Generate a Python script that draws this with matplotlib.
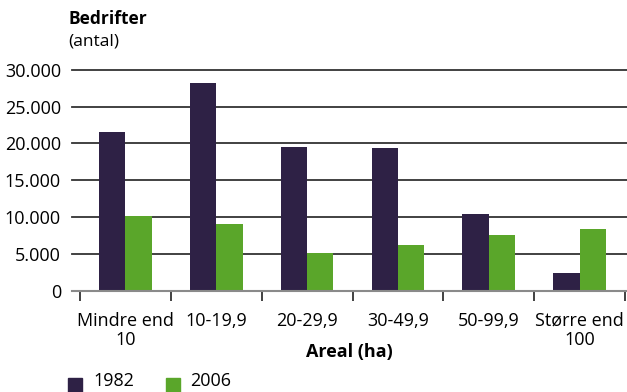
import matplotlib
matplotlib.use("Agg")
import matplotlib.pyplot as plt
import numpy as np

# Antal bedrifter fordelt på areal
categories = ["Mindre end\n10", "10-19,9", "20-29,9", "30-49,9", "50-99,9", "Større end\n100"]
series_names = ["1982", "2006"]
values_1982 = [21550, 28150, 19550, 19400, 10400, 2400]
values_2006 = [10100, 9150, 5200, 6250, 7650, 8350]
y_ticks = [0, 5000, 10000, 15000, 20000, 25000, 30000]
y_tick_labels = ["0", "5.000", "10.000", "15.000", "20.000", "25.000", "30.000"]

plt.rcParams["font.family"] = ["Open Sans", "DejaVu Sans"]
FS = 13
C1982 = "#2e2145"
C2006 = "#5aa62a"

W, H = 627, 392
fig = plt.figure(figsize=(W / 100, H / 100), dpi=100)
ax = fig.add_axes([72 / W, 1 - 291 / H, (627 - 72) / W, (291 - 69.7) / H])

x = np.arange(len(categories))
bw = 0.29
ax.bar(x - bw / 2, values_1982, bw, color=C1982, zorder=3, label=series_names[0])
ax.bar(x + bw / 2, values_2006, bw, color=C2006, zorder=3, label=series_names[1])

ax.set_ylim(0, 30000)
ax.set_xlim(-0.5 - 8 / 90.8, len(categories) - 0.5 + 2 / 90.8)

# horizontal gridlines
for t in y_ticks[1:]:
    ax.axhline(t, color="#333333", lw=1.3, zorder=1, clip_on=False)
ax.axhline(0, color="#8a8a8a", lw=1.5, zorder=4, clip_on=False)

for s in ax.spines.values():
    s.set_visible(False)

ax.set_yticks(y_ticks)
ax.set_yticklabels(y_tick_labels, fontsize=FS)
ax.tick_params(axis="y", length=0, pad=8)

ax.set_xticks(x)
ax.set_xticklabels(categories, fontsize=FS, linespacing=1.1)
ax.tick_params(axis="x", which="major", length=0, pad=15)
ax.set_xticks(np.arange(len(categories) + 1) - 0.5, minor=True)
ax.tick_params(axis="x", which="minor", length=7, width=1.3, color="#333333")

fig.text(349.5 / W, 1 - 352 / H, "Areal (ha)", fontsize=FS, fontweight="bold",
         ha="center", va="center")
fig.text(68 / W, 1 - 19 / H, "Bedrifter", fontsize=12.5, fontweight="bold",
         ha="left", va="center")
fig.text(68 / W, 1 - 42 / H, "(antal)", fontsize=12.5, ha="left", va="center")

# legend
fig.patches.append(plt.Rectangle((68 / W, 0), 14 / W, 14 / H, color=C1982,
                                 transform=fig.transFigure, figure=fig))
fig.text(93 / W, 1 - 381 / H, series_names[0], fontsize=FS, ha="left", va="center")
fig.patches.append(plt.Rectangle((166 / W, 0), 14 / W, 14 / H, color=C2006,
                                 transform=fig.transFigure, figure=fig))
fig.text(190 / W, 1 - 381 / H, series_names[1], fontsize=FS, ha="left", va="center")

fig.savefig("out.png", dpi=100)
